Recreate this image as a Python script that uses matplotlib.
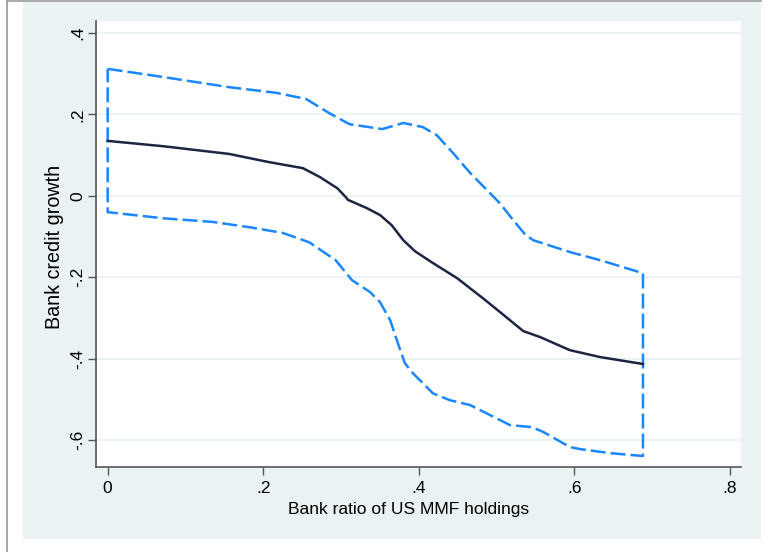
import matplotlib
matplotlib.use("Agg")
import matplotlib.pyplot as plt
from matplotlib.patches import Rectangle
from matplotlib.lines import Line2D

plt.rcParams['font.family'] = ['Liberation Sans', 'DejaVu Sans']

# point estimate
x_mid = [0.000, 0.071, 0.156, 0.207, 0.251, 0.273, 0.285, 0.295, 0.306, 0.309,
         0.333, 0.350, 0.365, 0.380, 0.395, 0.418, 0.449, 0.482, 0.504, 0.534,
         0.556, 0.594, 0.633, 0.688]
y_mid = [0.135, 0.122, 0.103, 0.083, 0.068, 0.046, 0.031, 0.019, -0.003, -0.010,
         -0.030, -0.047, -0.072, -0.109, -0.136, -0.165, -0.202, -0.251, -0.285, -0.332,
         -0.347, -0.379, -0.396, -0.413]

# upper confidence bound
x_up = [0.000, 0.071, 0.156, 0.217, 0.255, 0.285, 0.306, 0.311, 0.353, 0.380,
        0.405, 0.423, 0.444, 0.466, 0.504, 0.521, 0.537, 0.547, 0.594, 0.633, 0.688]
y_up = [0.312, 0.292, 0.267, 0.253, 0.238, 0.203, 0.181, 0.176, 0.164, 0.179,
        0.169, 0.149, 0.105, 0.056, -0.018, -0.059, -0.096, -0.109, -0.138, -0.158, -0.190]

# lower confidence bound
x_lo = [0.000, 0.071, 0.135, 0.182, 0.225, 0.259, 0.293, 0.314, 0.337, 0.350,
        0.363, 0.373, 0.382, 0.392, 0.418, 0.440, 0.466, 0.492, 0.517, 0.545,
        0.560, 0.594, 0.607, 0.646, 0.688]
y_lo = [-0.040, -0.055, -0.064, -0.077, -0.091, -0.114, -0.158, -0.207, -0.236, -0.261,
        -0.305, -0.362, -0.411, -0.435, -0.485, -0.502, -0.514, -0.539, -0.563, -0.568,
        -0.580, -0.617, -0.622, -0.632, -0.639]

xticks = [0, 0.2, 0.4, 0.6, 0.8]
xticklabels = ['0', '.2', '.4', '.6', '.8']
yticks = [0.4, 0.2, 0, -0.2, -0.4, -0.6]
yticklabels = ['.4', '.2', '0', '-.2', '-.4', '-.6']

bg = '#EAF2F3'
band_col = '#1A87FF'
mid_col = '#1C2541'
axis_col = '#555555'

fig = plt.figure(figsize=(7.64, 5.52), dpi=100, facecolor='white')
fig.patches.append(Rectangle((23 / 764, 1 - 539 / 552), 738 / 764, 537 / 552,
                             transform=fig.transFigure, facecolor=bg,
                             edgecolor='none', zorder=-5))
fig.lines.append(Line2D([7 / 764, 7 / 764], [0, 1 - 1 / 552],
                        transform=fig.transFigure, color='#999999', lw=1.2, zorder=-4))
fig.lines.append(Line2D([7 / 764, 761 / 764], [1 - 1 / 552, 1 - 1 / 552],
                        transform=fig.transFigure, color='#999999', lw=1.2, zorder=-4))

ax = fig.add_axes([96 / 764, 1 - 467 / 552, 645 / 764, 446 / 552])
ax.set_facecolor('white')

# closed outline of the confidence band
band_x = x_up + x_lo[::-1] + [x_up[0]]
band_y = y_up + y_lo[::-1] + [y_up[0]]
ax.plot(band_x, band_y, color=band_col, lw=1.8, dashes=(6, 2), zorder=3)
ax.plot(x_mid, y_mid, color=mid_col, lw=1.8, zorder=4)

ax.set_xlim(-0.015, 0.814)
ax.set_ylim(-0.666, 0.4295)
ax.set_xticks(xticks)
ax.set_xticklabels(xticklabels)
ax.set_yticks(yticks)
ax.set_yticklabels(yticklabels, rotation=90, va='center')

for y in yticks:
    ax.axhline(y, color=bg, lw=1.3, zorder=1)

for s in ['top', 'right']:
    ax.spines[s].set_visible(False)
for s in ['left', 'bottom']:
    ax.spines[s].set_color(axis_col)
    ax.spines[s].set_linewidth(1.2)
ax.tick_params(direction='out', length=5.8, width=1, color=axis_col,
               labelsize=12.5, labelcolor='black')
ax.tick_params(axis='x', pad=4)
ax.tick_params(axis='y', pad=2)

ax.set_xlabel('Bank ratio of US MMF holdings', fontsize=12.5, va='center')
ax.xaxis.set_label_coords(0.4845, -0.0953)
ax.set_ylabel('Bank credit growth', fontsize=14.2, va='center')
ax.yaxis.set_label_coords(-0.0636, 0.494)

fig.savefig('out.png', dpi=100, facecolor=fig.get_facecolor())
